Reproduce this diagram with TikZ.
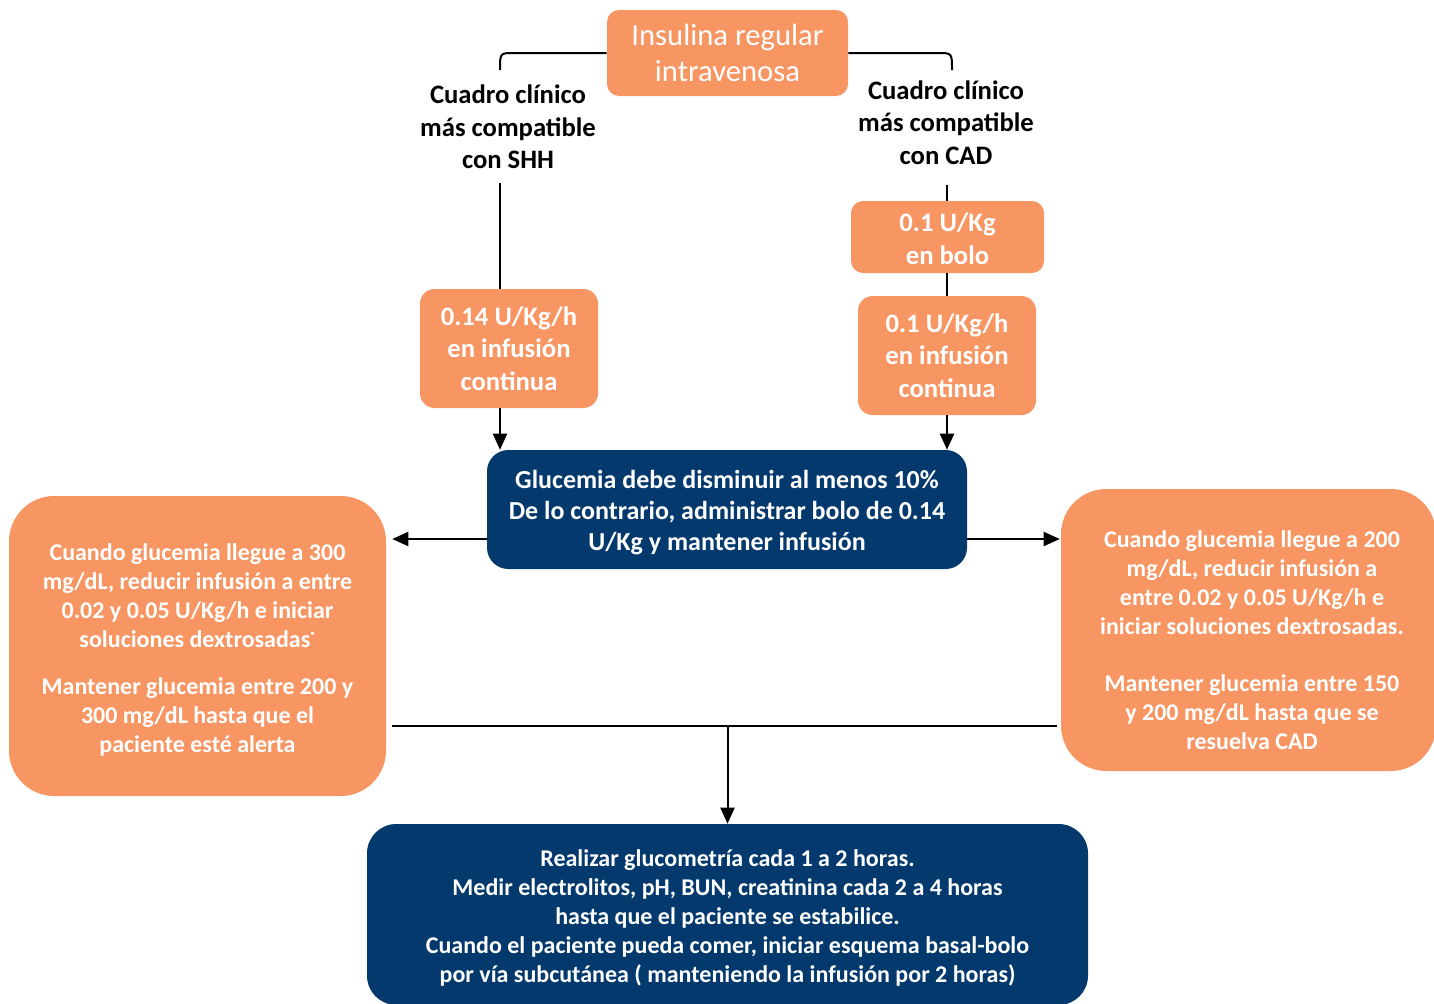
\documentclass[tikz,border=0pt]{standalone}
\usepackage{fontspec}
\setmainfont{Carlito}
\usetikzlibrary{arrows.meta}
\definecolor{org}{HTML}{F79663}
\definecolor{navy}{HTML}{03396C}
\begin{document}
\begin{tikzpicture}[x=0.75pt,y=-0.75pt,
  bx/.style 2 args={minimum width=#1*0.75pt, minimum height=#2*0.75pt},
  obox/.style={fill=org, text=white, align=center, inner sep=0pt},
  nbox/.style={fill=navy, text=white, align=center, inner sep=0pt},
  wtxt/.style={text=white, align=center, inner sep=0pt},
  fA/.style={font=\fontsize{20}{24.5}\selectfont\bfseries},
  fB/.style={font=\fontsize{19.5}{23.3}\selectfont\bfseries},
  fC/.style={font=\fontsize{18}{21.75}\selectfont\bfseries},
  ln/.style={line width=1.5pt, black},
  arr/.style={ln, -{Triangle[length=12pt,width=10.5pt]}}]
\useasboundingbox (0,0) rectangle (1434,1003);
\fill[white] (0,0) rectangle (1434,1003);

% nodes
\node[obox, bx={241}{86}, rounded corners=9pt, font=\fontsize{23}{27}\selectfont] (title) at (727.5,53) {Insulina regular\\intravenosa};
\node[fA, align=center, inner sep=0pt] (shhtxt) at (508,127) {Cuadro clínico\\más compatible\\con SHH};
\node[fA, align=center, inner sep=0pt] (cadtxt) at (946,122.5) {Cuadro clínico\\más compatible\\con CAD};
\node[obox, fA, bx={178}{119}, rounded corners=11pt] (shhbox) at (509,348.5) {0.14 U/Kg/h\\en infusión\\continua};
\node[obox, bx={193}{72}, rounded corners=9pt] (bolo) at (947.5,237) {};
\node[wtxt, fA] (bolot) at (947.5,239) {0.1 U/Kg\\en bolo};
\node[obox, fA, bx={178}{119}, rounded corners=11pt] (cadinf) at (947,355.5) {0.1 U/Kg/h\\en infusión\\continua};
\node[nbox, bx={480}{119}, rounded corners=16pt] (blue) at (727,509.5) {};
\node[wtxt, fB] (bluet) at (727,512.5) {Glucemia debe disminuir al menos 10\%\\De lo contrario, administrar bolo de 0.14\\U/Kg y mantener infusión};
\node[obox, bx={377}{300}, rounded corners=34pt] (lbox) at (197.5,646) {};
\node[wtxt, fC] (ltxt) at (197.5,649.5) {Cuando glucemia llegue a 300\\mg/dL, reducir infusión a entre\\0.02 y 0.05 U/Kg/h e iniciar\\soluciones dextrosadas\textsuperscript{·}\\[13.5pt]Mantener glucemia entre 200 y\\300 mg/dL hasta que el\\paciente esté alerta};
\node[obox, bx={375}{282}, rounded corners=34pt] (rbox) at (1248.5,630) {};
\node[wtxt, fC] (rtxt) at (1252,640) {Cuando glucemia llegue a 200\\mg/dL, reducir infusión a\\entre 0.02 y 0.05 U/Kg/h e\\iniciar soluciones dextrosadas.\\[21pt]Mantener glucemia entre 150\\y 200 mg/dL hasta que se\\resuelva CAD};
\node[nbox, bx={721}{181}, rounded corners=22pt] (bottom) at (727.5,914.5) {};
\node[wtxt, fC] (bottomt) at (727.5,917.5) {Realizar glucometría cada 1 a 2 horas.\\Medir electrolitos, pH, BUN, creatinina cada 2 a 4 horas\\hasta que el paciente se estabilice.\\Cuando el paciente pueda comer, iniciar esquema basal-bolo\\por vía subcutánea ( manteniendo la infusión por 2 horas)};

% coordinates
\coordinate (lb) at (500,70);
\coordinate (rb) at (952,70);
\coordinate (l1) at (500,183);
\coordinate (r1) at (947,185);
\coordinate (ay) at (0,539);
\coordinate (hy) at (0,726);

% connectors
\draw[ln] (title.west) -- (514,53) .. controls (500,53) .. (lb);
\draw[ln] (title.east) -- (938,53) .. controls (952,53) .. (rb);
\draw[ln] (l1) -- (l1 |- shhbox.north);
\draw[arr] (l1 |- shhbox.south) -- (l1 |- blue.north);
\draw[ln] (r1) -- (r1 |- bolo.north);
\draw[ln] (r1 |- bolo.south) -- (r1 |- cadinf.north);
\draw[arr] (r1 |- cadinf.south) -- (r1 |- blue.north);
\draw[arr, shorten >=4.5pt] (blue.west |- ay) -- (lbox.east |- ay);
\draw[arr, shorten >=0.75pt] (blue.east |- ay) -- (rbox.west |- ay);
\draw[ln, shorten <=4.5pt, shorten >=3pt] (lbox.east |- hy) -- (rbox.west |- hy);
\draw[arr] (bottom.north |- hy) -- (bottom.north);
\end{tikzpicture}
\end{document}
